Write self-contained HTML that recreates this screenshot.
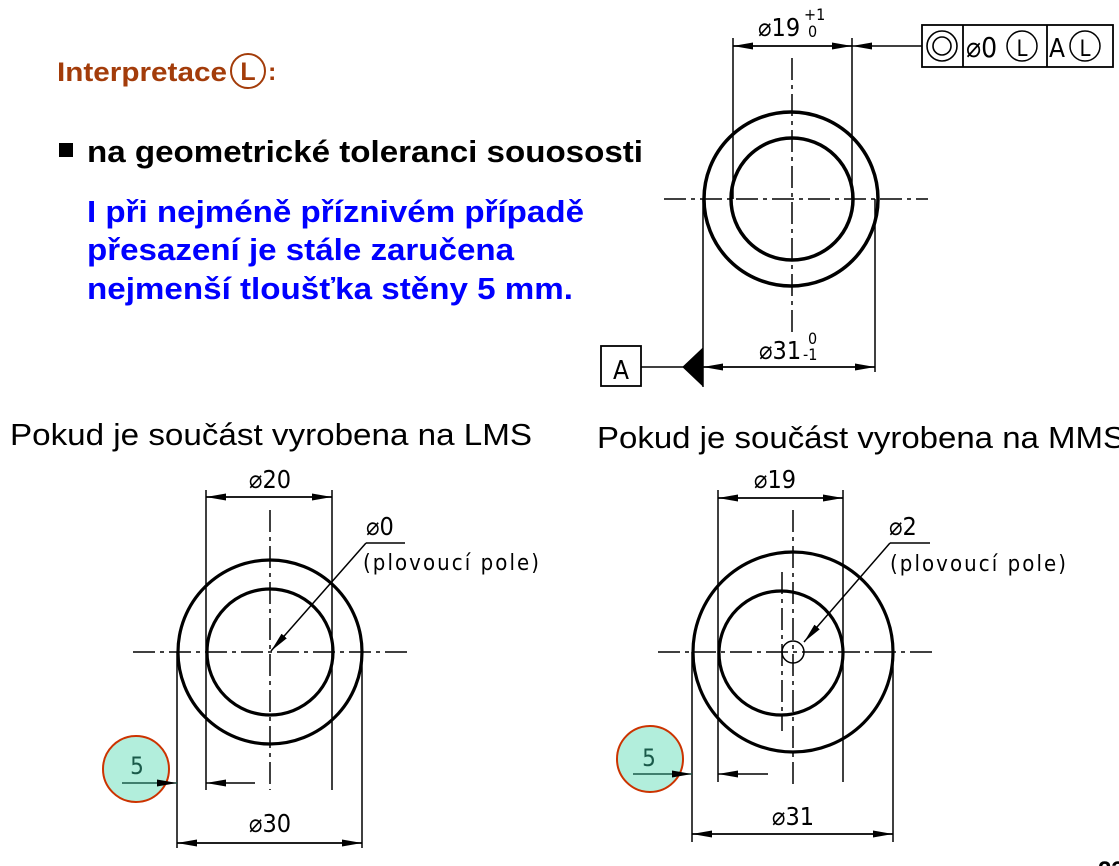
<!DOCTYPE html>
<html><head><meta charset="utf-8"><style>
html,body{margin:0;padding:0;background:#fff;width:1119px;height:866px;overflow:hidden}
svg{display:block}
</style></head><body>
<svg width="1119" height="866" viewBox="0 0 1119 866" xmlns="http://www.w3.org/2000/svg">
<defs>
<marker id="ar" markerWidth="20" markerHeight="10" refX="20" refY="5" orient="auto" markerUnits="userSpaceOnUse"><path d="M0,1.5 L20,5 L0,8.5 Z" fill="#000"/></marker>
</defs>
<g font-family="Liberation Sans, Arial, sans-serif" font-weight="bold">
<text x="57" y="81" font-size="27" fill="#a33c0a" textLength="170" lengthAdjust="spacingAndGlyphs">Interpretace</text>
<circle cx="248" cy="71" r="17" fill="none" stroke="#a33c0a" stroke-width="2"/>
<text x="248" y="80" font-size="25" fill="#a33c0a" text-anchor="middle">L</text>
<text x="268" y="80" font-size="25" fill="#a33c0a">:</text>
<rect x="59" y="143" width="14" height="14" fill="#000"/>
<text x="87" y="162" font-size="31" fill="#000" textLength="556" lengthAdjust="spacingAndGlyphs">na geometrické toleranci souososti</text>
<text x="87" y="222" font-size="31" fill="#0000ff" textLength="497" lengthAdjust="spacingAndGlyphs">I při nejméně příznivém případě</text>
<text x="87" y="260" font-size="31" fill="#0000ff" textLength="427" lengthAdjust="spacingAndGlyphs">přesazení je stále zaručena</text>
<text x="87" y="299" font-size="31" fill="#0000ff" textLength="486" lengthAdjust="spacingAndGlyphs">nejmenší tloušťka stěny 5 mm.</text>
<text x="1098" y="878" font-size="24" fill="#000">23</text>
</g>
<g font-family="Liberation Sans, Arial, sans-serif" font-size="31" fill="#000">
<text x="10" y="445" textLength="522" lengthAdjust="spacingAndGlyphs">Pokud je součást vyrobena na LMS</text>
<text x="597" y="448" textLength="528" lengthAdjust="spacingAndGlyphs">Pokud je součást vyrobena na MMS</text>
</g>

<!-- TOP DRAWING -->
<g stroke="#000" fill="none">
<circle cx="791" cy="199" r="87" stroke-width="3.5"/>
<circle cx="792" cy="199" r="61" stroke-width="3.5"/>
<line x1="664" y1="199" x2="928" y2="199" stroke-width="1.5" stroke-dasharray="22,5,4,5"/>
<line x1="792" y1="58" x2="792" y2="332" stroke-width="1.5" stroke-dasharray="22,5,4,5"/>
<line x1="733" y1="38" x2="733" y2="199" stroke-width="1.5"/>
<line x1="852" y1="38" x2="852" y2="199" stroke-width="1.5"/>
<line x1="733" y1="46" x2="852" y2="46" stroke-width="1.5" marker-end="url(#ar)"/>
<line x1="852" y1="46" x2="733" y2="46" stroke-width="1.5" marker-end="url(#ar)"/>
<line x1="922" y1="46" x2="852" y2="46" stroke-width="1.5" marker-end="url(#ar)"/>
<line x1="703" y1="199" x2="703" y2="387" stroke-width="1.5"/>
<line x1="875" y1="199" x2="875" y2="372" stroke-width="1.5"/>
<line x1="703" y1="367" x2="875" y2="367" stroke-width="1.5" marker-end="url(#ar)"/>
<line x1="875" y1="367" x2="703" y2="367" stroke-width="1.5" marker-end="url(#ar)"/>
<rect x="601" y="346" width="40" height="40" stroke-width="1.8"/>
<line x1="641" y1="367" x2="684" y2="367" stroke-width="1.5"/>
<path d="M683,367 L703,348 L703,386 Z" fill="#000"/>
<rect x="922" y="25" width="191" height="42" stroke-width="1.8"/>
<line x1="963" y1="25" x2="963" y2="67" stroke-width="1.8"/>
<line x1="1047" y1="25" x2="1047" y2="67" stroke-width="1.8"/>
<circle cx="942" cy="46" r="15" stroke-width="1.6"/>
<circle cx="942" cy="46" r="9" stroke-width="1.6"/>
<circle cx="1022" cy="46" r="15" stroke-width="1.5"/>
<circle cx="1085" cy="46" r="15" stroke-width="1.5"/>
</g>
<g font-family="DejaVu Sans Condensed, DejaVu Sans, sans-serif" fill="#000">
<text x="758" y="36" font-size="25">⌀19</text>
<text x="804" y="20" font-size="16">+1</text>
<text x="808" y="37" font-size="16">0</text>
<text x="966" y="57" font-size="28">⌀0</text>
<text x="1022" y="56" font-size="22" text-anchor="middle">L</text>
<text x="1049" y="57" font-size="26">A</text>
<text x="1085" y="56" font-size="22" text-anchor="middle">L</text>
<text x="621" y="379" font-size="26" text-anchor="middle">A</text>
<text x="759" y="359" font-size="25">⌀31</text>
<text x="808" y="344" font-size="16">0</text>
<text x="803" y="360" font-size="16">-1</text>
</g>

<!-- LOWER LEFT -->
<circle cx="136" cy="769" r="33" fill="#b2eedc" stroke="#cc3300" stroke-width="2"/>
<g stroke="#000" fill="none">
<circle cx="270" cy="652" r="92" stroke-width="3.2"/>
<circle cx="270" cy="652" r="63" stroke-width="3.2"/>
<line x1="133" y1="652" x2="412" y2="652" stroke-width="1.5" stroke-dasharray="22,5,4,5"/>
<line x1="270" y1="510" x2="270" y2="790" stroke-width="1.5" stroke-dasharray="22,5,4,5"/>
<line x1="206" y1="490" x2="206" y2="790" stroke-width="1.5"/>
<line x1="332" y1="490" x2="332" y2="790" stroke-width="1.5"/>
<line x1="206" y1="497" x2="332" y2="497" stroke-width="1.5" marker-end="url(#ar)"/>
<line x1="332" y1="497" x2="206" y2="497" stroke-width="1.5" marker-end="url(#ar)"/>
<line x1="177" y1="652" x2="177" y2="848" stroke-width="1.5"/>
<line x1="362" y1="652" x2="362" y2="848" stroke-width="1.5"/>
<line x1="177" y1="843" x2="362" y2="843" stroke-width="1.5" marker-end="url(#ar)"/>
<line x1="362" y1="843" x2="177" y2="843" stroke-width="1.5" marker-end="url(#ar)"/>
<line x1="366" y1="543" x2="271" y2="651" stroke-width="1.5" marker-end="url(#ar)"/>
<line x1="366" y1="543" x2="405" y2="543" stroke-width="1.5"/>
<line x1="255" y1="783" x2="206" y2="783" stroke-width="1.5" marker-end="url(#ar)"/>
<line x1="122" y1="783" x2="177" y2="783" stroke-width="1.5" stroke="#1a5a4a" marker-end="url(#ar)"/>
</g>
<g font-family="DejaVu Sans Condensed, DejaVu Sans, sans-serif" fill="#000">
<text x="270" y="488" font-size="25" text-anchor="middle">⌀20</text>
<text x="366" y="535" font-size="25">⌀0</text>
<text x="363" y="570" font-size="22" textLength="176" lengthAdjust="spacing">(plovoucí pole)</text>
<text x="270" y="832" font-size="25" text-anchor="middle">⌀30</text>
<text x="137" y="774" font-size="24" text-anchor="middle" fill="#1a5a4a">5</text>
</g>

<!-- LOWER RIGHT -->
<circle cx="650" cy="759" r="33" fill="#b2eedc" stroke="#cc3300" stroke-width="2"/>
<g stroke="#000" fill="none">
<circle cx="793" cy="652" r="100" stroke-width="3.2"/>
<circle cx="781" cy="653" r="62" stroke-width="3.2"/>
<circle cx="793" cy="652" r="11" stroke-width="1.5"/>
<line x1="658" y1="652" x2="935" y2="652" stroke-width="1.5" stroke-dasharray="22,5,4,5"/>
<line x1="793" y1="510" x2="793" y2="785" stroke-width="1.5" stroke-dasharray="22,5,4,5"/>
<line x1="782" y1="572" x2="782" y2="731" stroke-width="1.5" stroke-dasharray="22,5,4,5"/>
<line x1="718" y1="490" x2="718" y2="782" stroke-width="1.5"/>
<line x1="843" y1="490" x2="843" y2="782" stroke-width="1.5"/>
<line x1="718" y1="498" x2="843" y2="498" stroke-width="1.5" marker-end="url(#ar)"/>
<line x1="843" y1="498" x2="718" y2="498" stroke-width="1.5" marker-end="url(#ar)"/>
<line x1="692" y1="652" x2="692" y2="842" stroke-width="1.5"/>
<line x1="893" y1="652" x2="893" y2="842" stroke-width="1.5"/>
<line x1="692" y1="834" x2="893" y2="834" stroke-width="1.5" marker-end="url(#ar)"/>
<line x1="893" y1="834" x2="692" y2="834" stroke-width="1.5" marker-end="url(#ar)"/>
<line x1="890" y1="543" x2="804" y2="642" stroke-width="1.5" marker-end="url(#ar)"/>
<line x1="890" y1="543" x2="930" y2="543" stroke-width="1.5"/>
<line x1="768" y1="774" x2="718" y2="774" stroke-width="1.5" marker-end="url(#ar)"/>
<line x1="633" y1="774" x2="692" y2="774" stroke-width="1.5" stroke="#1a5a4a" marker-end="url(#ar)"/>
</g>
<g font-family="DejaVu Sans Condensed, DejaVu Sans, sans-serif" fill="#000">
<text x="775" y="488" font-size="25" text-anchor="middle">⌀19</text>
<text x="889" y="535" font-size="25">⌀2</text>
<text x="890" y="571" font-size="22" textLength="176" lengthAdjust="spacing">(plovoucí pole)</text>
<text x="793" y="825" font-size="25" text-anchor="middle">⌀31</text>
<text x="649" y="766" font-size="24" text-anchor="middle" fill="#1a5a4a">5</text>
</g>
</svg>
</body></html>
